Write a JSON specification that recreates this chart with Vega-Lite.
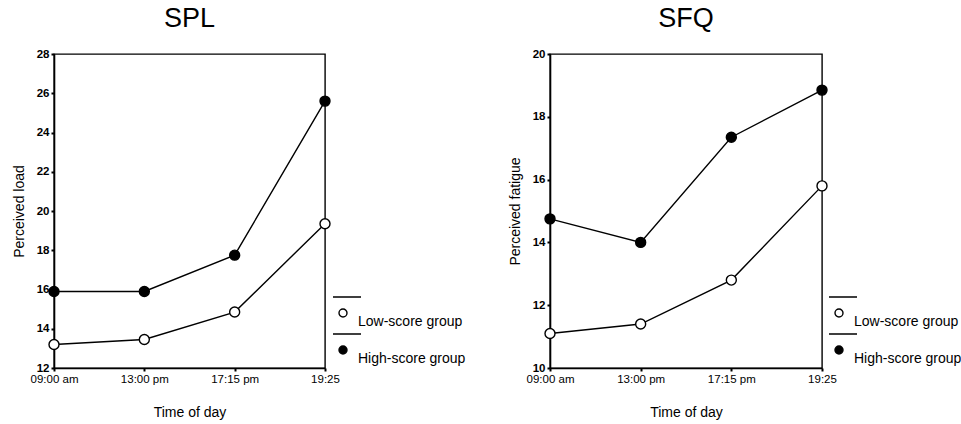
{
  "$schema": "https://vega.github.io/schema/vega-lite/v6.json",
  "background": "white",
  "padding": {"left": 11, "top": 4, "right": 5, "bottom": 2},
  "config": {
    "font": "Liberation Sans",
    "view": {"stroke": "black", "strokeWidth": 1.4},
    "title": {"fontSize": 27, "fontWeight": "normal", "font": "Liberation Sans", "color": "black", "offset": 15},
    "axis": {
      "domainColor": "black", "domainWidth": 1.6, "tickColor": "black", "tickSize": 3, "tickWidth": 2,
      "labelColor": "black", "titleColor": "black", "titleFontWeight": "normal", "titleFontSize": 14,
      "labelFont": "Liberation Sans", "titleFont": "Liberation Sans", "grid": false
    },
    "legend": {
      "labelFontSize": 14, "labelColor": "black", "labelFont": "Liberation Sans",
      "symbolStrokeColor": "black", "symbolStrokeWidth": 1.4, "symbolSize": 64,
      "rowPadding": 2, "labelOffset": 8, "padding": 0
    }
  },
  "datasets": {
    "pts": [
      {"panel": "SPL", "time": "09:00 am", "group": "Low-score group", "value": 13.2},
      {"panel": "SPL", "time": "13:00 pm", "group": "Low-score group", "value": 13.45},
      {"panel": "SPL", "time": "17:15 pm", "group": "Low-score group", "value": 14.85},
      {"panel": "SPL", "time": "19:25", "group": "Low-score group", "value": 19.35},
      {"panel": "SPL", "time": "09:00 am", "group": "High-score group", "value": 15.9},
      {"panel": "SPL", "time": "13:00 pm", "group": "High-score group", "value": 15.9},
      {"panel": "SPL", "time": "17:15 pm", "group": "High-score group", "value": 17.75},
      {"panel": "SPL", "time": "19:25", "group": "High-score group", "value": 25.6},
      {"panel": "SFQ", "time": "09:00 am", "group": "Low-score group", "value": 11.1},
      {"panel": "SFQ", "time": "13:00 pm", "group": "Low-score group", "value": 11.4},
      {"panel": "SFQ", "time": "17:15 pm", "group": "Low-score group", "value": 12.8},
      {"panel": "SFQ", "time": "19:25", "group": "Low-score group", "value": 15.8},
      {"panel": "SFQ", "time": "09:00 am", "group": "High-score group", "value": 14.75},
      {"panel": "SFQ", "time": "13:00 pm", "group": "High-score group", "value": 14.0},
      {"panel": "SFQ", "time": "17:15 pm", "group": "High-score group", "value": 17.35},
      {"panel": "SFQ", "time": "19:25", "group": "High-score group", "value": 18.85}
    ]
  },
  "spacing": 40,
  "resolve": {"scale": {"fill": "independent", "y": "independent"}, "legend": {"fill": "independent"}},
  "hconcat": [
    {
      "title": "SPL",
      "width": 271, "height": 314,
      "data": {"name": "pts"},
      "transform": [{"filter": "datum.panel === 'SPL'"}],
      "encoding": {
        "x": {"field": "time", "type": "ordinal", "sort": null, "scale": {"type": "point", "padding": 0},
              "axis": {"title": "Time of day", "labelAngle": 0, "labelFontSize": 11.5, "labelPadding": 2, "titlePadding": 21}},
        "y": {"field": "value", "type": "quantitative", "scale": {"domain": [12, 28], "zero": false},
              "axis": {"title": "Perceived load", "values": [12, 14, 16, 18, 20, 22, 24, 26, 28], "labelFontSize": 11.5, "labelFontWeight": "bold", "labelPadding": 2, "titlePadding": 10}}
      },
      "layer": [
        {"mark": {"type": "line", "color": "black", "strokeWidth": 1.4}, "encoding": {"detail": {"field": "group"}}},
        {"mark": {"type": "point", "shape": "circle", "size": 100, "stroke": "black", "strokeWidth": 1.4, "opacity": 1},
         "encoding": {"fill": {"field": "group", "type": "nominal",
           "scale": {"domain": ["Low-score group", "High-score group"], "range": ["white", "black"]},
           "legend": {"title": null, "orient": "none", "legendX": 282, "legendY": 261,
             "symbolType": "M 1 -2.25 C 1 -1.698 0.552 -1.25 0 -1.25 C -0.552 -1.25 -1 -1.698 -1 -2.25 C -1 -2.802 -0.552 -3.25 0 -3.25 C 0.552 -3.25 1 -2.802 1 -2.25 Z M -2.5 -6.25 L 4.5 -6.25"}}}}
      ]
    },
    {
      "title": "SFQ",
      "width": 272, "height": 314,
      "data": {"name": "pts"},
      "transform": [{"filter": "datum.panel === 'SFQ'"}],
      "encoding": {
        "x": {"field": "time", "type": "ordinal", "sort": null, "scale": {"type": "point", "padding": 0},
              "axis": {"title": "Time of day", "labelAngle": 0, "labelFontSize": 11.5, "labelPadding": 2, "titlePadding": 21}},
        "y": {"field": "value", "type": "quantitative", "scale": {"domain": [10, 20], "zero": false},
              "axis": {"title": "Perceived fatigue", "values": [10, 12, 14, 16, 18, 20], "labelFontSize": 11.5, "labelFontWeight": "bold", "labelPadding": 2, "titlePadding": 10}}
      },
      "layer": [
        {"mark": {"type": "line", "color": "black", "strokeWidth": 1.4}, "encoding": {"detail": {"field": "group"}}},
        {"mark": {"type": "point", "shape": "circle", "size": 100, "stroke": "black", "strokeWidth": 1.4, "opacity": 1},
         "encoding": {"fill": {"field": "group", "type": "nominal",
           "scale": {"domain": ["Low-score group", "High-score group"], "range": ["white", "black"]},
           "legend": {"title": null, "orient": "none", "legendX": 282, "legendY": 261,
             "symbolType": "M 1 -2.25 C 1 -1.698 0.552 -1.25 0 -1.25 C -0.552 -1.25 -1 -1.698 -1 -2.25 C -1 -2.802 -0.552 -3.25 0 -3.25 C 0.552 -3.25 1 -2.802 1 -2.25 Z M -2.5 -6.25 L 4.5 -6.25"}}}}
      ]
    }
  ]
}
